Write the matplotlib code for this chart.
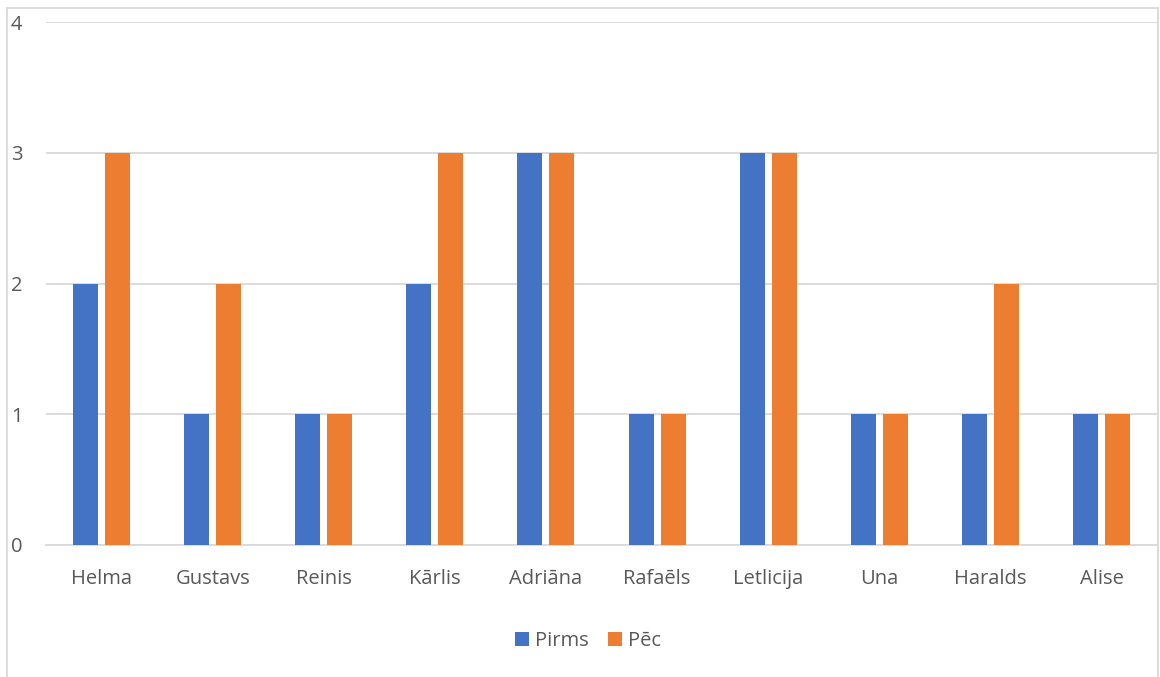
import matplotlib
matplotlib.use("Agg")
import matplotlib.pyplot as plt
from matplotlib.patches import Rectangle
import numpy as np

names = ["Helma", "Gustavs", "Reinis", "Kārlis", "Adriāna", "Rafaēls",
         "Letlicija", "Una", "Haralds", "Alise"]
pirms = [2, 1, 1, 2, 3, 1, 3, 1, 1, 1]
pec = [3, 2, 1, 3, 3, 1, 3, 1, 2, 1]
y_ticks = [0, 1, 2, 3, 4]

plt.rcParams['font.family'] = ['Open Sans', 'DejaVu Sans']
text_color = "#595959"
grid_color = "#D9D9D9"
fs = 14.5

fig = plt.figure(figsize=(11.60, 6.77), dpi=100)
ax = fig.add_axes([46 / 1160, 1 - 545 / 677, (1157 - 46) / 1160, (545 - 22) / 677])

x = np.arange(len(names))
w = 0.225
off = 0.144
ax.bar(x - off, pirms, width=w, color="#4472C4", label="Pirms", zorder=3)
ax.bar(x + off, pec, width=w, color="#ED7D31", label="Pēc", zorder=3)

ax.set_xlim(-0.5, len(names) - 0.5)
ax.set_ylim(0, 4)
ax.set_yticks(y_ticks)
ax.set_yticklabels([str(t) for t in y_ticks])
ax.set_xticks(x)
ax.set_xticklabels(names)
ax.yaxis.grid(True, color=grid_color, linewidth=1.3, zorder=0)
ax.set_axisbelow(True)
for s in ["top", "right", "left"]:
    ax.spines[s].set_visible(False)
ax.spines["bottom"].set_color(grid_color)
ax.spines["bottom"].set_linewidth(1.3)
ax.tick_params(axis="both", length=0, colors=text_color, labelsize=fs)
ax.tick_params(axis="y", pad=17)
ax.tick_params(axis="x", pad=17.5)

# chart frame
fig.patches.append(Rectangle((7 / 1160, -0.1), (1158 - 7) / 1160, 1 - 8 / 677 + 0.1,
                             transform=fig.transFigure, fill=False,
                             edgecolor=grid_color, linewidth=1.3))

leg = fig.legend(loc="center", bbox_to_anchor=(588 / 1160, 1 - 641 / 677), ncol=2,
                 frameon=False, fontsize=fs, handlelength=0.65, handleheight=0.65,
                 handletextpad=0.3, columnspacing=1.0)
for t in leg.get_texts():
    t.set_color(text_color)

fig.savefig("out.png", dpi=100)
